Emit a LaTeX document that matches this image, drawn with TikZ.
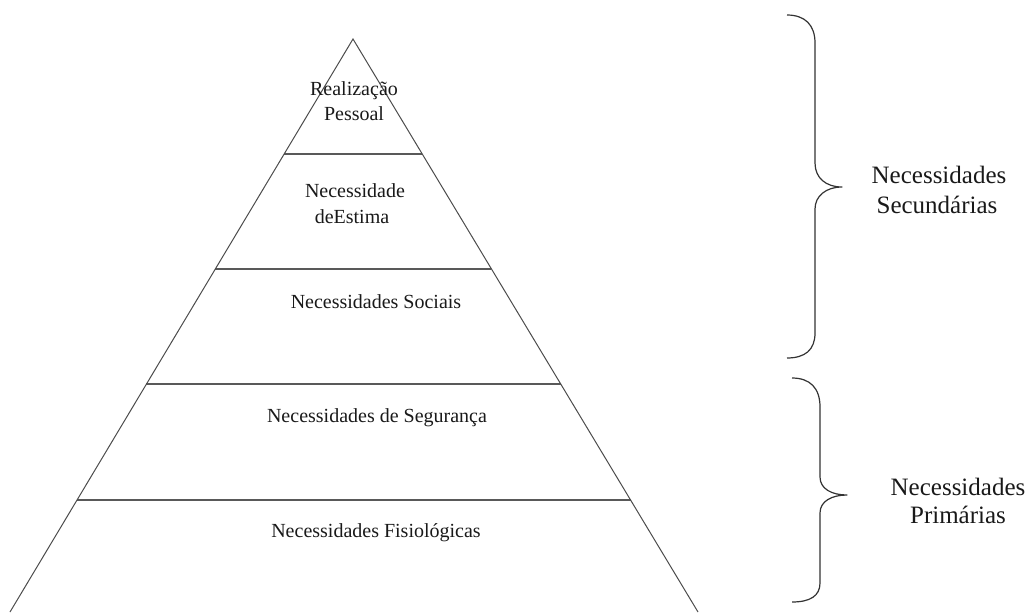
\documentclass[tikz,border=0pt]{standalone}
\usepackage{fontspec}
\setmainfont{Liberation Serif}
\usetikzlibrary{calc}
\begin{document}
\begin{tikzpicture}[x=1pt,y=-1pt,
  edge/.style={draw=black!70,line width=1pt},
  level/.style={draw=black!65,line width=1.8pt},
  brace/.style={draw=black!80,line width=1.2pt,line join=round},
  lbl/.style={inner sep=0pt,anchor=base,font=\fontsize{20}{24}\selectfont,text=black!90},
  side/.style={inner sep=0pt,anchor=base,font=\fontsize{25}{30}\selectfont,text=black!90}]
\useasboundingbox (0,0) rectangle (1032,614);
\coordinate (apex) at (353,39);
\coordinate (bl) at (10,612);
\coordinate (br) at (698,612);
% levels
\foreach \t/\n in {0.2007/a,0.4014/b,0.6021/c,0.8045/d}{
  \coordinate (L\n) at ($(apex)!\t!(bl)$);
  \coordinate (R\n) at ($(apex)!\t!(br)$);
}
\draw[level] (La) -- (Ra);
\draw[level] (Lb) -- (Rb);
\draw[level] (Lc) -- (Rc);
\draw[level] (Ld) -- (Rd);
\draw[edge] (bl) -- (apex) -- (br);
% labels
\node[lbl] (r1) at (354,95) {Realização};
\node[lbl] (r2) at (354,120) {Pessoal};
\node[lbl] (e1) at (355,197) {Necessidade};
\node[lbl] (e2) at (352,223) {deEstima};
\node[lbl] (s1) at (376,308) {Necessidades Sociais};
\node[lbl] (g1) at (377,422) {Necessidades de Segurança};
\node[lbl] (f1) at (376,537) {Necessidades Fisiológicas};
% braces
\draw[brace] (787,15) .. controls (805,15) and (815,25) .. (815,43) -- (815,163)
  .. controls (815,178) and (826,187) .. (842,187)
  .. controls (826,187) and (815,196) .. (815,209) -- (815,333)
  .. controls (815,350) and (805,358) .. (787,358);
\draw[brace] (792,378) .. controls (810,378) and (820,388) .. (820,407) -- (820,477)
  .. controls (820,489) and (832,495) .. (847,495)
  .. controls (832,495) and (820,501) .. (820,513) -- (820,583)
  .. controls (820,596) and (810,602) .. (792,602);
\node[side] (n1) at (939,183) {Necessidades};
\node[side] (n2) at (937,213) {Secundárias};
\node[side] (p1) at (958,495) {Necessidades};
\node[side] (p2) at (958,523) {Primárias};
\end{tikzpicture}
\end{document}
